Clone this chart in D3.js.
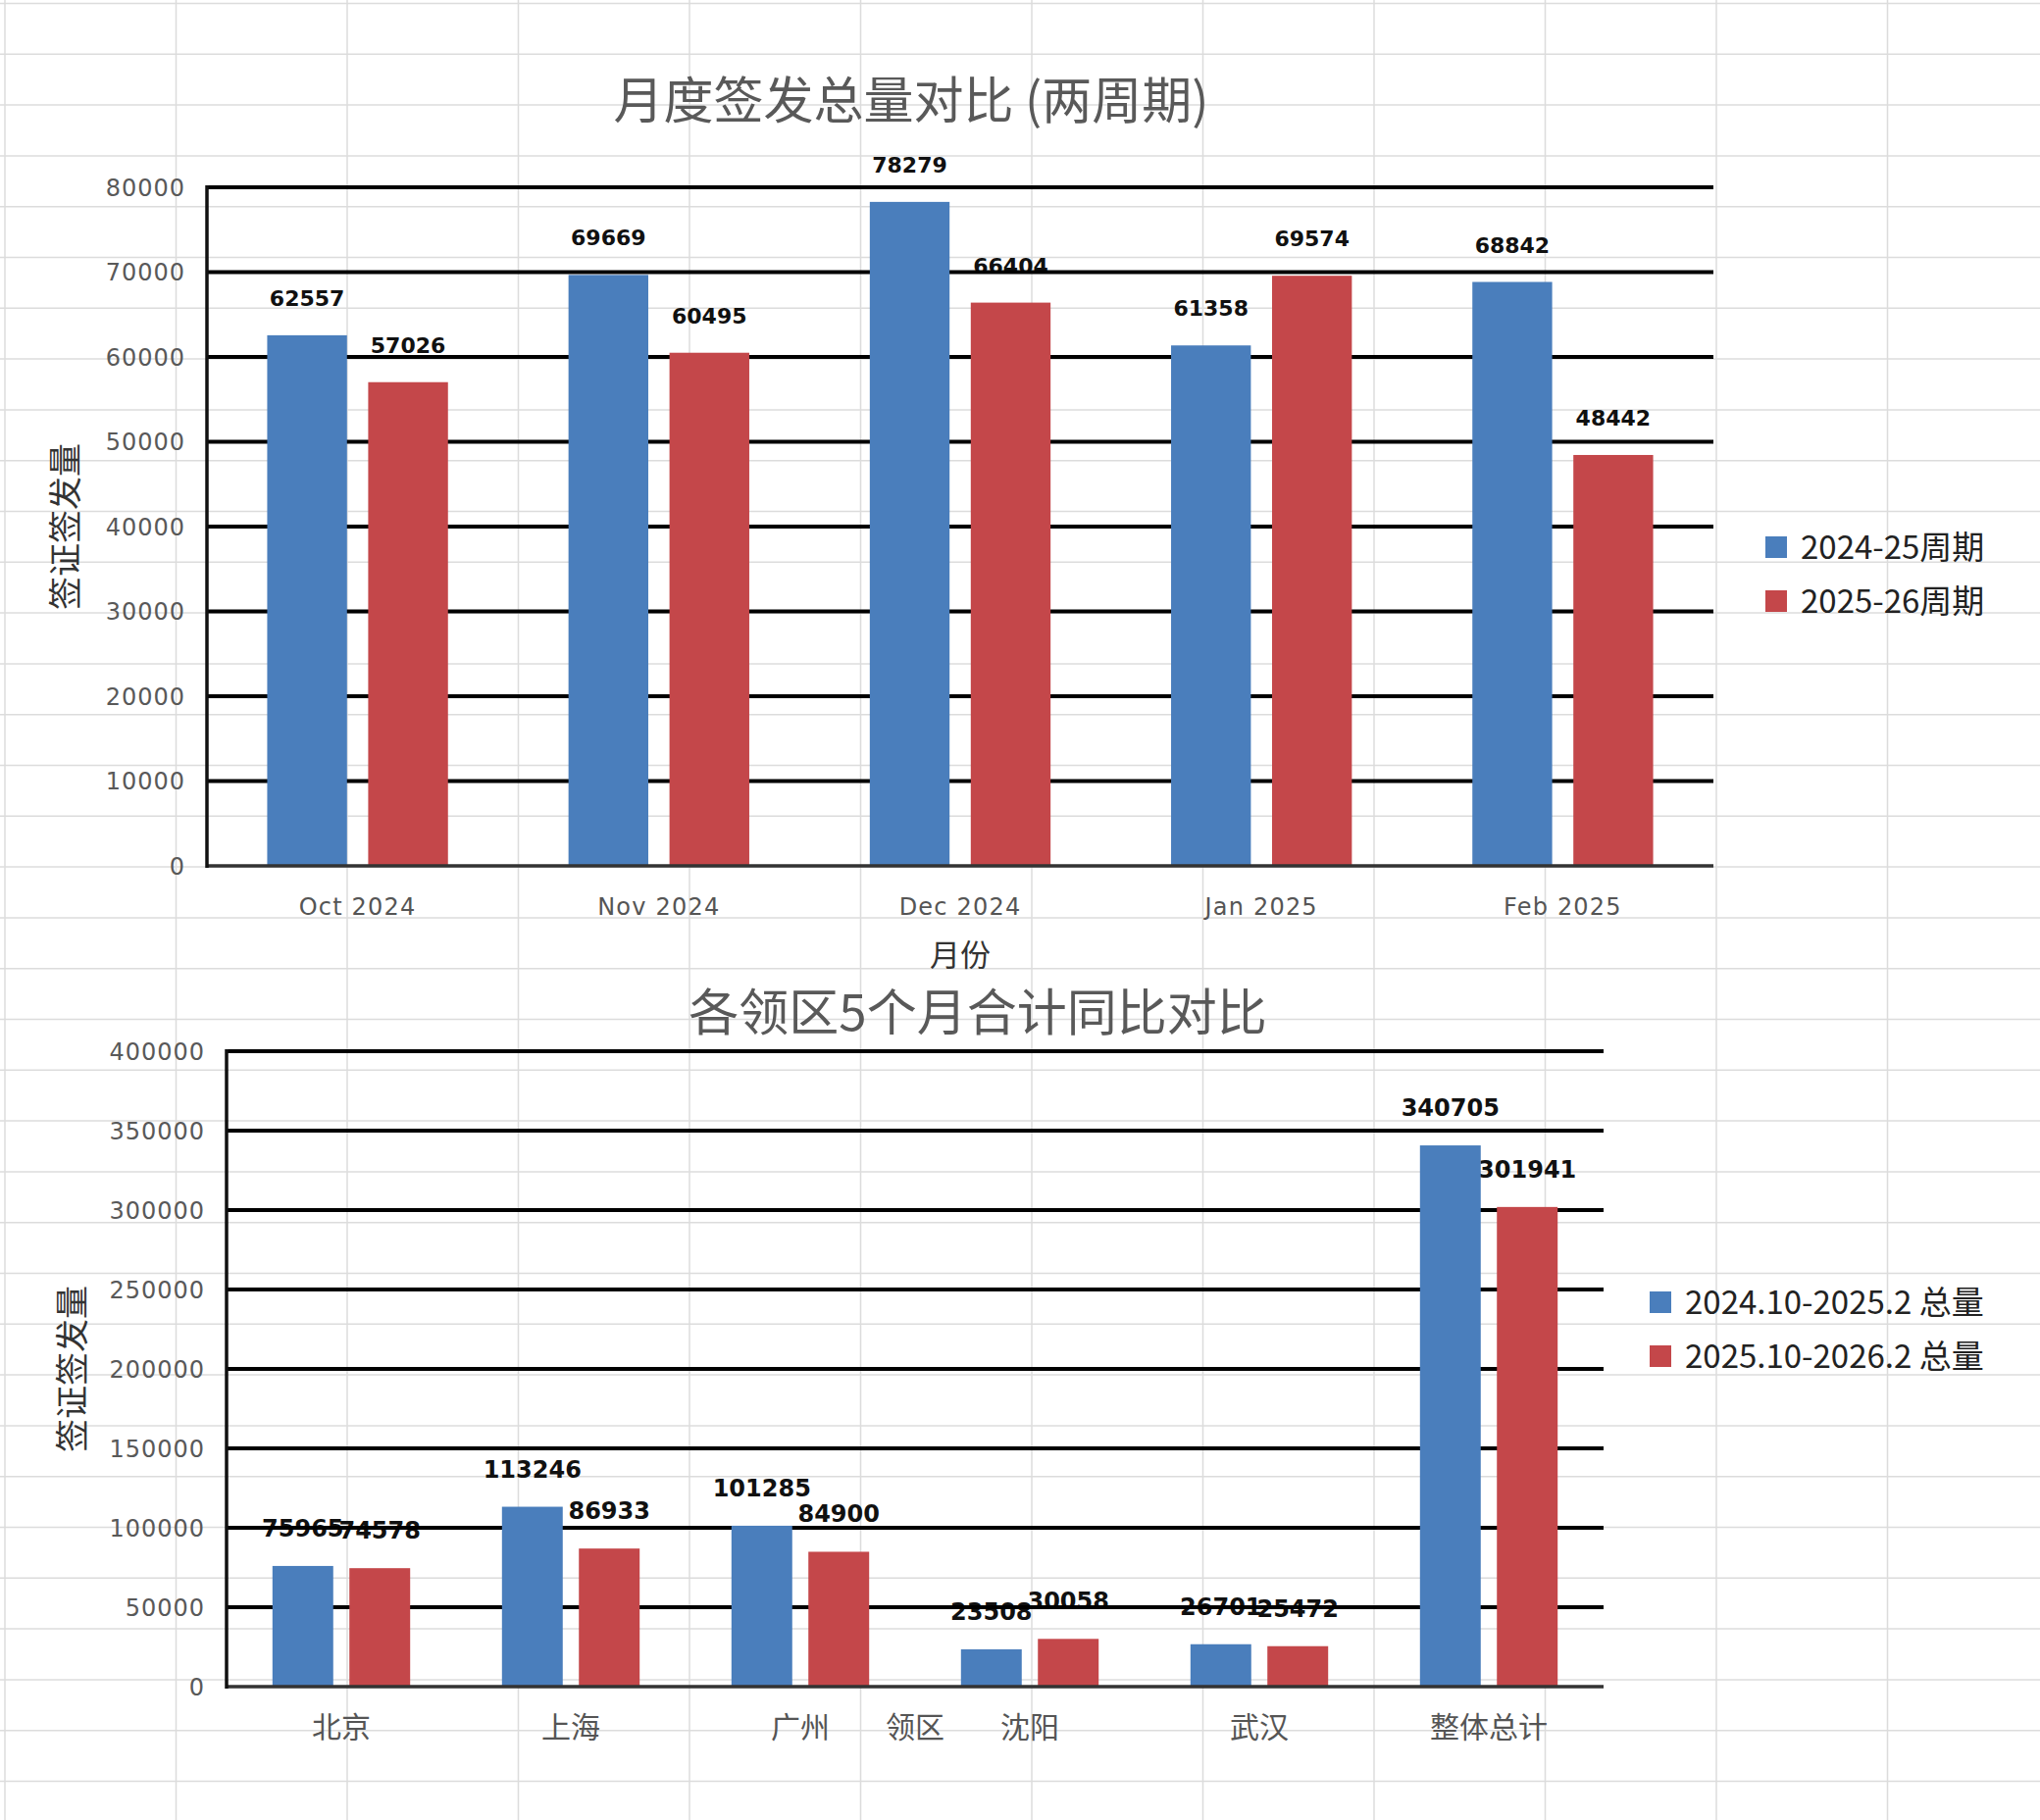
<!DOCTYPE html>
<html>
  <head>
    <meta http-equiv="Content-Type" content="text/html;charset=utf-8">
    <title>签发量对比</title>
    <script src="https://d3js.org/d3.v7.min.js"></script>
    <style>
      html, body {
        margin: 0;
        padding: 0;
        background: #fff;
      }
      svg { display: block; }
      .tick-label { font-family: "DejaVu Sans", sans-serif; fill: #595959; letter-spacing: 1px; }
      .val { font-family: "DejaVu Sans", sans-serif; font-weight: bold; fill: #111; }
      .cjk { font-family: "Noto Sans CJK SC", sans-serif; }
    </style>
  </head>
  <body>
  <script type="text/javascript">

// top chart: monthly totals
var months = ["Oct 2024", "Nov 2024", "Dec 2024", "Jan 2025", "Feb 2025"];
var cycle1 = [62557, 69669, 78279, 61358, 68842];
var cycle2 = [57026, 60495, 66404, 69574, 48442];
var monthSeries = ["2024-25周期", "2025-26周期"];
var monthTicks = [0, 10000, 20000, 30000, 40000, 50000, 60000, 70000, 80000];

// bottom chart: 5-month totals per district
var districts = ["北京", "上海", "广州", "沈阳", "武汉", "整体总计"];
var total1 = [75965, 113246, 101285, 23508, 26701, 340705];
var total2 = [74578, 86933, 84900, 30058, 25472, 301941];
var districtSeries = ["2024.10-2025.2 总量", "2025.10-2026.2 总量"];
var districtTicks = [0, 50000, 100000, 150000, 200000, 250000, 300000, 350000, 400000];

var colors = ["#4a7ebc", "#c4474a"];

var W = 2080, H = 1856;
var svg = d3.select("body").append("svg")
    .attr("width", W)
    .attr("height", H);

// faint spreadsheet cells behind everything
var bg = svg.append("g");
bg.selectAll("line.v").data(d3.range(0, 12)).enter().append("line")
    .attr("x1", function(k) { return 5 + k * 174.5; })
    .attr("x2", function(k) { return 5 + k * 174.5; })
    .attr("y1", 0).attr("y2", H)
    .style("stroke", "#dcdcdc").style("stroke-width", 1.5);
bg.selectAll("line.h").data(d3.range(0, 36)).enter().append("line")
    .attr("y1", function(k) { return 3.5 + k * 51.8; })
    .attr("y2", function(k) { return 3.5 + k * 51.8; })
    .attr("x1", 0).attr("x2", W)
    .style("stroke", "#dcdcdc").style("stroke-width", 1.5);

function barChart(o) {
  var g = svg.append("g");

  var x0 = d3.scaleBand().domain(o.cats).range([o.left, o.right]).paddingInner(0).paddingOuter(0);
  var bw0 = x0.bandwidth();
  var x1 = d3.scaleBand().domain([0, 1])
      .range([bw0 * 0.2, bw0 * 0.8]).paddingInner(0.21).paddingOuter(0);
  var y = d3.scaleLinear().domain([0, o.ticks[o.ticks.length - 1]]).range([o.bottom, o.top]);

  var rows = o.cats.map(function(c, i) {
    return { cat: c, vals: [o.s1[i], o.s2[i]] };
  });

  // value labels sit under the gridlines
  rows.forEach(function(r) {
    r.vals.forEach(function(v, j) {
      g.append("text").attr("class", "val")
        .attr("x", x0(r.cat) + x1(j) + x1.bandwidth() / 2)
        .attr("y", y(v) - 30)
        .attr("text-anchor", "middle")
        .style("font-size", o.valSize + "px")
        .text(v);
    });
  });

  // gridlines
  g.selectAll("line.grid").data(o.ticks.slice(1)).enter().append("line")
    .attr("x1", o.left).attr("x2", o.right)
    .attr("y1", function(d) { return y(d); })
    .attr("y2", function(d) { return y(d); })
    .style("stroke", "#000").style("stroke-width", 4);

  // bars
  rows.forEach(function(r) {
    r.vals.forEach(function(v, j) {
      g.append("rect")
        .attr("x", x0(r.cat) + x1(j))
        .attr("width", x1.bandwidth())
        .attr("y", y(v))
        .attr("height", y(0) - y(v))
        .style("fill", colors[j]);
    });
  });

  // axes lines
  g.append("line").attr("x1", o.left).attr("x2", o.right)
    .attr("y1", y(0)).attr("y2", y(0))
    .style("stroke", "#333").style("stroke-width", 3.5);
  g.append("line").attr("x1", o.left).attr("x2", o.left)
    .attr("y1", y(0) + 2).attr("y2", y(o.ticks[o.ticks.length - 1]) - 2)
    .style("stroke", "#111").style("stroke-width", 3.5);

  // tick labels
  g.selectAll("text.tick").data(o.ticks).enter().append("text")
    .attr("class", "tick-label")
    .attr("x", o.left - 22)
    .attr("y", function(d) { return y(d); })
    .attr("dy", "0.36em")
    .attr("text-anchor", "end")
    .style("font-size", "24px")
    .text(function(d) { return d; });

  // category labels
  g.selectAll("text.cat").data(o.cats).enter().append("text")
    .attr("class", o.catClass)
    .attr("x", function(d) { return x0(d) + bw0 / 2; })
    .attr("y", o.catY)
    .attr("text-anchor", "middle")
    .style("font-size", o.catSize + "px")
    .style("fill", "#555")
    .style("letter-spacing", o.catSpacing)
    .text(function(d) { return d; });

  // y title
  g.append("text").attr("class", "cjk")
    .attr("transform", "translate(" + o.yTitleX + "," + ((o.top + o.bottom) / 2) + ") rotate(-90)")
    .attr("text-anchor", "middle")
    .attr("dy", "0.35em")
    .style("font-size", "34px")
    .style("fill", "#333")
    .text("签证签发量");

  // chart title
  g.append("text").attr("class", "cjk")
    .attr("x", o.titleX).attr("y", o.titleY)
    .attr("text-anchor", "middle")
    .attr("dominant-baseline", "central")
    .style("font-size", "51px")
    .style("fill", "#595959")
    .text(o.title);

  // x title
  g.append("text").attr("class", "cjk")
    .attr("x", (o.left + o.right) / 2).attr("y", o.xTitleY)
    .attr("text-anchor", "middle")
    .style("font-size", o.xTitleSize + "px")
    .style("fill", o.xTitleColor)
    .text(o.xTitle);

  // legend
  var lg = g.append("g");
  o.series.forEach(function(s, j) {
    var cy = o.legY + j * 55;
    lg.append("rect").attr("x", o.legX).attr("y", cy - 11)
      .attr("width", 22).attr("height", 22).style("fill", colors[j]);
    lg.append("text").attr("class", "cjk")
      .attr("x", o.legX + 36).attr("y", cy)
      .attr("dy", "0.36em")
      .style("font-size", o.legSize + "px")
      .style("fill", "#222")
      .text(s);
  });
}

barChart({
  cats: months, s1: cycle1, s2: cycle2, ticks: monthTicks, series: monthSeries,
  left: 211, right: 1747, top: 191, bottom: 883,
  valSize: 22, catY: 933, catSize: 24, catClass: "tick-label", catSpacing: "1.2px",
  yTitleX: 67, title: "月度签发总量对比 (两周期)", titleX: 929, titleY: 99,
  xTitle: "月份", xTitleY: 985, xTitleSize: 31, xTitleColor: "#333",
  legX: 1800, legY: 558, legSize: 33
});

barChart({
  cats: districts, s1: total1, s2: total2, ticks: districtTicks, series: districtSeries,
  left: 231, right: 1635, top: 1072, bottom: 1720,
  valSize: 24, catY: 1772, catSize: 30, catClass: "cjk", catSpacing: "0px",
  yTitleX: 74, title: "各领区5个月合计同比对比", titleX: 997, titleY: 1029,
  xTitle: "领区", xTitleY: 1772, xTitleSize: 30, xTitleColor: "#555",
  legX: 1682, legY: 1328, legSize: 33
});

  </script>
  </body>
</html>
